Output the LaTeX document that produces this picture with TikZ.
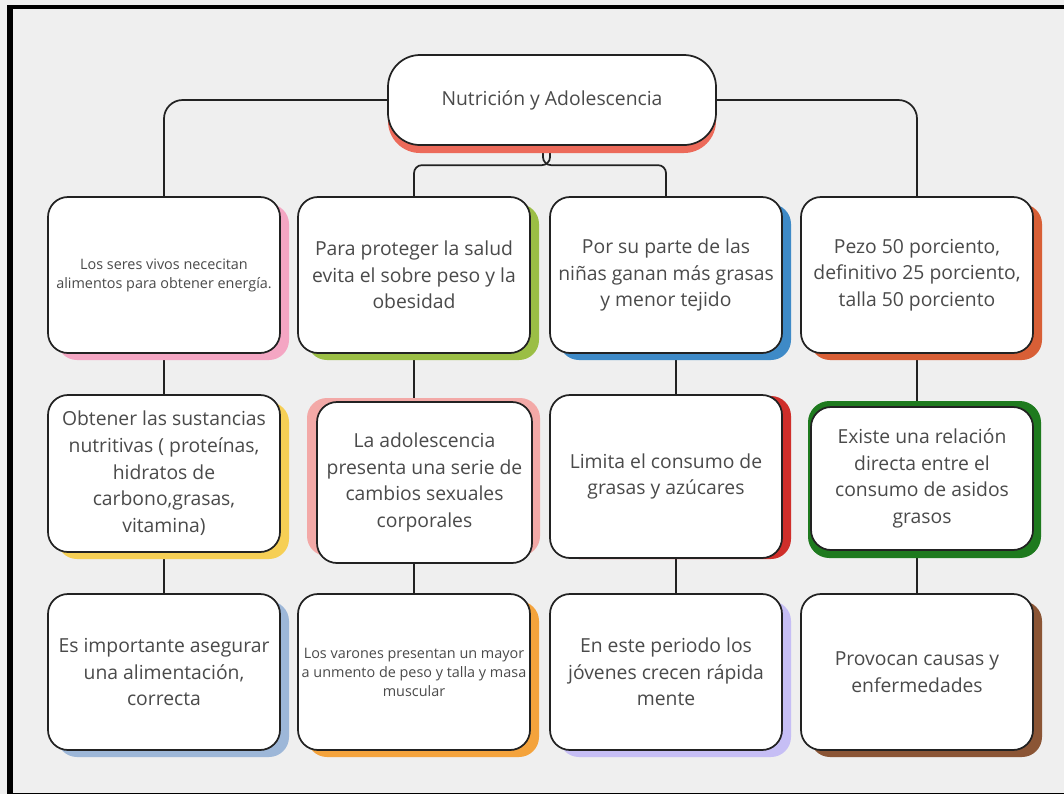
\documentclass[tikz,border=0pt]{standalone}
\usepackage{fontspec}
\setmainfont{Open Sans}
\usetikzlibrary{shadows,calc}
\definecolor{bg}{HTML}{EFEFEF}
\definecolor{txt}{HTML}{4A4A4A}
\definecolor{edge}{HTML}{222222}
\definecolor{cRoot}{HTML}{EC6A5A}
\definecolor{cPink}{HTML}{F4A6C3}
\definecolor{cOlive}{HTML}{9BBE45}
\definecolor{cBlue}{HTML}{3E8AC7}
\definecolor{cRust}{HTML}{D85F36}
\definecolor{cYellow}{HTML}{F6CF55}
\definecolor{cSalmon}{HTML}{F3A9A7}
\definecolor{cRed}{HTML}{CF2E2A}
\definecolor{cGreen}{HTML}{1E7A1E}
\definecolor{cSteel}{HTML}{9DB7D8}
\definecolor{cOrange}{HTML}{F4A33C}
\definecolor{cLav}{HTML}{C6BEF5}
\definecolor{cBrown}{HTML}{8B5535}
\newcommand\bigfont{\fontsize{14.5pt}{20pt}\selectfont}
\newcommand\smallfont{\fontsize{10.8pt}{14.3pt}\selectfont}
\pgfdeclarelayer{back}
\pgfdeclarelayer{mid}
\pgfsetlayers{back,mid,main}
\tikzset{
  box/.style={draw=edge, line width=1.3pt, fill=white, rounded corners=15pt,
    minimum width=174pt, minimum height=117pt, align=center, text=txt,
    font=\bigfont, inner sep=0pt},
  shad/.style={drop shadow={shadow xshift=6.75pt, shadow yshift=-5.25pt, fill=#1, opacity=1}},
  conn/.style={draw=edge, line width=1.3pt, rounded corners=9pt},
}
\begin{document}
\begin{tikzpicture}[x=0.75pt,y=-0.75pt]
\useasboundingbox (0,0) rectangle (1064,794);
\begin{pgfonlayer}{back}
\fill[bg] (0,0) rectangle (1064,794);
\fill[black] (7,4.5) rectangle (1064,9);
\fill[black] (7,4.5) rectangle (13,794);
\fill[black] (7,792.5) rectangle (1064,794);
\end{pgfonlayer}

% root
\node[box, minimum width=246pt, minimum height=67.5pt, rounded corners=24pt,
  drop shadow={shadow xshift=0pt, shadow yshift=-6pt, fill=cRoot, opacity=1}]
  (root) at (552,100) {Nutrición y Adolescencia};

% row 1
\node[box, shad=cPink, font=\smallfont] (b1) at (164,275)
  {Los seres vivos nececitan\\alimentos para obtener energía.};
\node[box, shad=cOlive] (b2) at (414,275)
  {Para proteger la salud\\evita el sobre peso y la\\obesidad};
\node[box, shad=cBlue] (b3) at (666,275)
  {Por su parte de las\\niñas ganan más grasas\\y menor tejido};
\node[box, shad=cRust] (b4) at (917,275)
  {Pezo 50 porciento,\\definitivo 25 porciento,\\talla 50 porciento};

% row 2
\node[box, shad=cYellow, minimum height=117.75pt] (b5) at (164,473.5)
  {Obtener las sustancias\\nutritivas ( proteínas,\\hidratos de\\carbono,grasas,\\vitamina)};
\fill[cSalmon, rounded corners=15pt] (307,398) rectangle (540,556);
\node[box, minimum width=161.25pt, minimum height=120.75pt] (b6) at (424.5,482.5)
  {La adolescencia\\presenta una serie de\\cambios sexuales\\corporales};
\node[box, minimum height=122.25pt,
  drop shadow={shadow xshift=6.75pt, shadow yshift=-0.75pt, fill=cRed, opacity=1}]
  (b7) at (666,476.5)
  {Limita el consumo de\\grasas y azúcares};
\fill[cGreen, rounded corners=16pt] (808,401) rectangle (1041,558);
\node[box, minimum width=166.5pt, minimum height=107.25pt] (b8) at (922,478.5)
  {Existe una relación\\directa entre el\\consumo de asidos\\grasos};

% row 3
\node[box, shad=cSteel] (b9) at (164,672)
  {Es importante asegurar\\una alimentación,\\correcta};
\node[box, shad=cOrange, font=\smallfont] (b10) at (414,672)
  {Los varones presentan un mayor\\a unmento de peso y talla y masa\\muscular};
\node[box, shad=cLav] (b11) at (666,672)
  {En este periodo los\\jóvenes crecen rápida\\mente};
\node[box, shad=cBrown] (b12) at (917,672)
  {Provocan causas y\\enfermedades};

% connectors
\begin{pgfonlayer}{mid}
\draw[conn, rounded corners=14pt] (root.west) -| (b1.north);
\draw[conn, rounded corners=14pt] (root.east) -| (b4.north);
\draw[conn, rounded corners=6pt] ([xshift=-1.5pt]root.south) |- ([yshift=23.25pt]b2.north) -- (b2.north);
\draw[conn, rounded corners=6pt] ([xshift=-6.75pt]root.south) |- ([yshift=23.25pt]b3.north) -- (b3.north);
\draw[conn] (b1.south) -- (b5.north);
\draw[conn] (b5.south) -- (b9.north);
\draw[conn] (b2.south) -- (b2.south |- b6.north);
\draw[conn] (b10.north) -- (b10.north |- b6.south);
\draw[conn] ([xshift=7.5pt]b3.south) -- ([xshift=7.5pt]b3.south |- b7.north);
\draw[conn] ([xshift=7.5pt]b11.north) -- ([xshift=7.5pt]b11.north |- b7.south);
\draw[conn] (b4.south) -- (b4.south |- b8.north);
\draw[conn] (b12.north) -- (b12.north |- b8.south);
\end{pgfonlayer}
\end{tikzpicture}
\end{document}
